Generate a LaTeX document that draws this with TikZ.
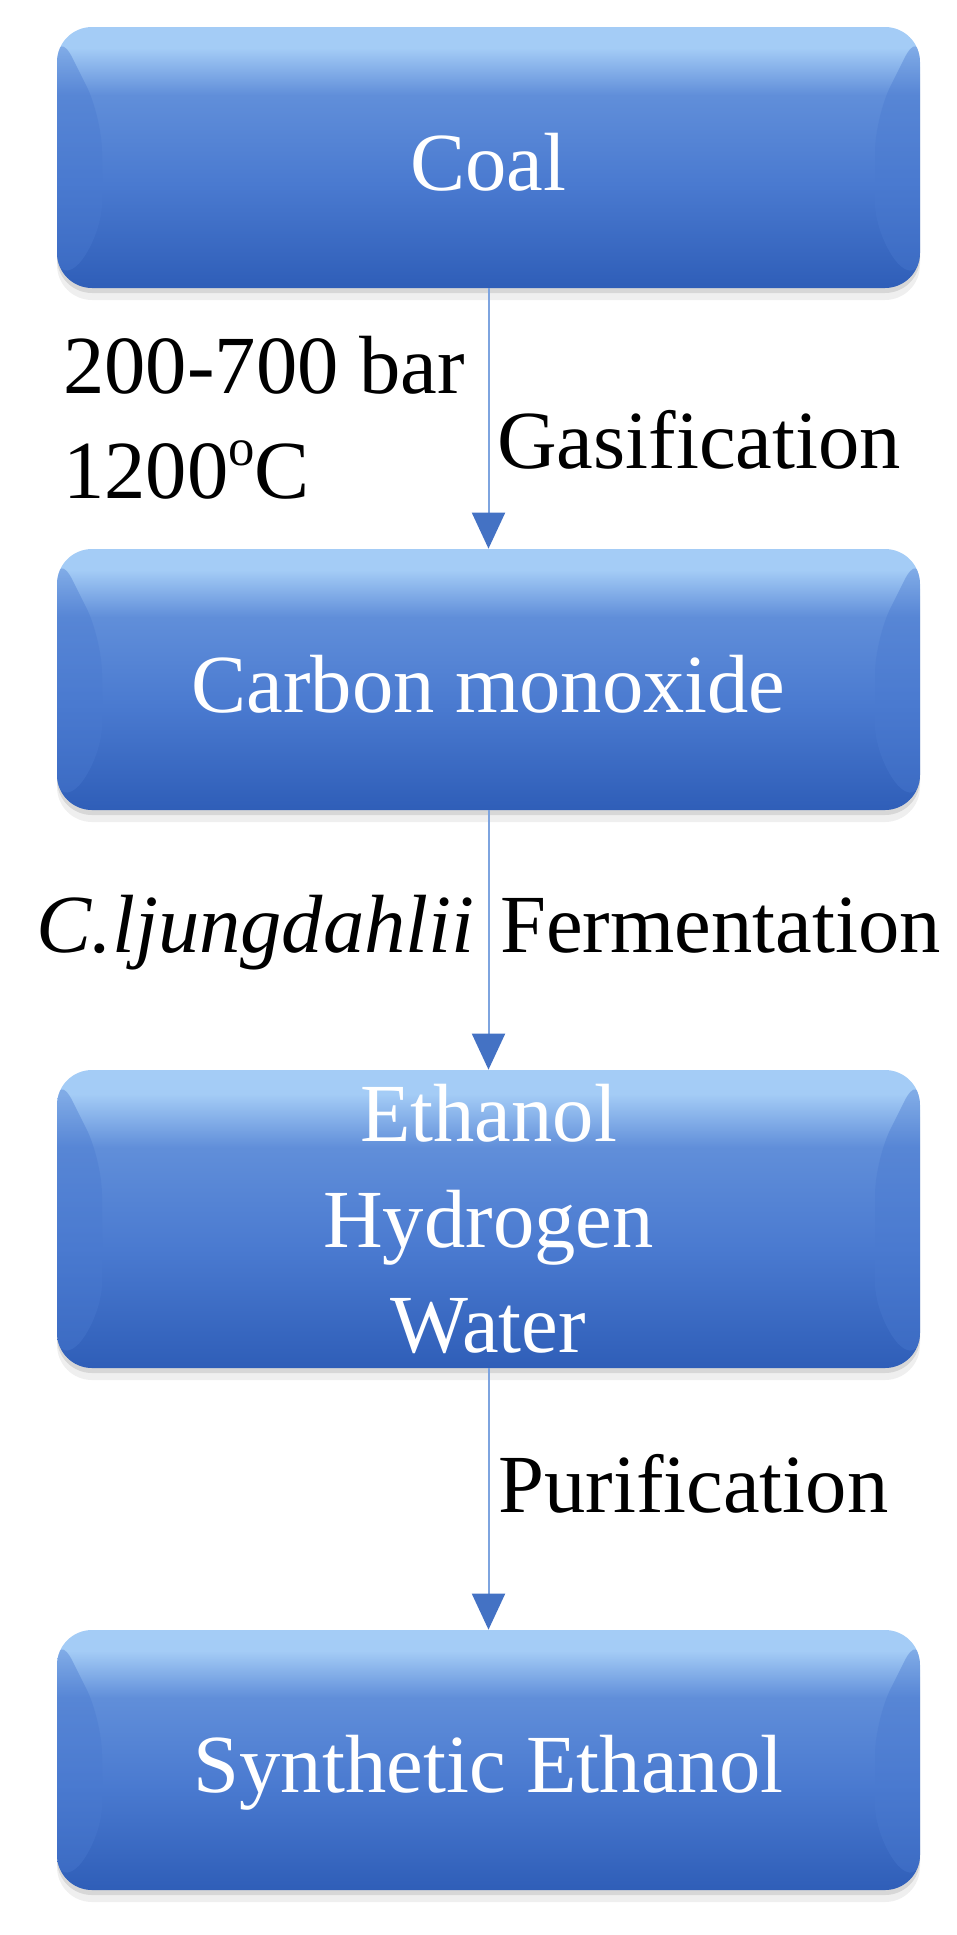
\documentclass[tikz,border=0pt]{standalone}
\usepackage{fontspec}
\setmainfont{Liberation Serif}
\usetikzlibrary{arrows.meta,shadows}
\definecolor{stagelight}{HTML}{A4CCF6}
\definecolor{stagemid}{HTML}{4A7AD0}
\definecolor{stagedark}{HTML}{2F5EB8}
\definecolor{flowline}{HTML}{7EA4DF}
\definecolor{flowtip}{HTML}{4472C4}
\pgfdeclareverticalshading{stageshade}{100bp}{color(0bp)=(stagedark); color(25bp)=(stagedark); color(45bp)=(stagemid); color(62bp)=(stagemid!75!stagelight); color(71bp)=(stagelight); color(75bp)=(stagelight); color(100bp)=(stagelight)}
\begin{document}
\begin{tikzpicture}[
    every node/.style={font=\fontsize{47}{60}\selectfont},
    stage/.style={rounded corners=0.7cm, minimum width=17.26cm, inner sep=0pt, shading=stageshade, text=white,
        drop shadow={shadow xshift=0pt, shadow yshift=-0.1cm, opacity=0.18, fill=black!60},
        drop shadow={shadow xshift=0pt, shadow yshift=-0.24cm, opacity=0.1, fill=black!60},
        path picture={
            \fill[stagemid, opacity=0.4] (path picture bounding box.north west) -- ++(0.9,-1.8) -- ([shift={(0.9,1.0)}]path picture bounding box.south west) -- (path picture bounding box.south west) -- cycle;
            \fill[stagemid, opacity=0.4] (path picture bounding box.north east) -- ++(-0.9,-1.8) -- ([shift={(-0.9,1.0)}]path picture bounding box.south east) -- (path picture bounding box.south east) -- cycle;
        }},
    oneline/.style={text height=1.3cm, text depth=0pt},
    flow/.style={draw=flowline, line width=0.04cm, -{Triangle[length=0.72cm, width=0.66cm, color=flowtip]}},
    note/.style={anchor=base west, inner sep=0pt}]
    \useasboundingbox (0,0) rectangle (19.14,-38.7);
    \node[stage, oneline, minimum height=5.22cm] (coal) at (9.77,-3.15) {Coal};
    \node[stage, oneline, minimum height=5.22cm] (monoxide) at (9.77,-13.59) {Carbon monoxide};
    \node[stage, minimum height=5.96cm, align=center] (mixture) at (9.77,-24.38) {Ethanol\\Hydrogen\\Water};
    \node[stage, oneline, minimum height=5.2cm] (product) at (9.77,-35.2) {Synthetic Ethanol};
    \draw[flow] (coal.south) -- (monoxide.north);
    \draw[flow] (monoxide.south) -- (mixture.north);
    \draw[flow] (mixture.south) -- (product.north);
    \node[note] (pressure) at (1.26,-7.86) {200-700 bar};
    \node[note] (temperature) at (1.26,-9.96) {1200\raisebox{0.66cm}{\fontsize{30}{30}\selectfont o}C};
    \node[note] (gasify) at (9.94,-9.36) {Gasification};
    \node[note] (microbe) at (0.72,-19.04) {\textit{C.ljungdahlii}};
    \node[note] (ferment) at (10.0,-19.04) {Fermentation};
    \node[note] (purify) at (9.96,-30.24) {Purification};
\end{tikzpicture}
\end{document}
